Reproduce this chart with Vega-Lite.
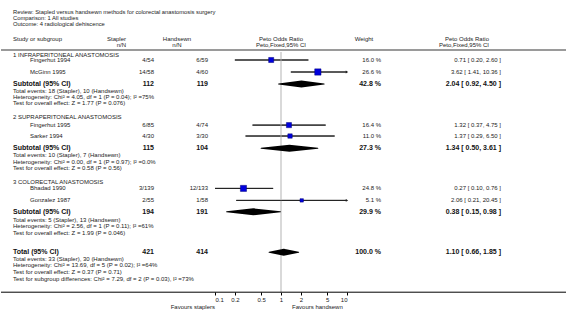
{
  "$schema": "https://vega.github.io/schema/vega-lite/v6.json",
  "padding": 0,
  "background": "white",
  "config": {"view": {"stroke": null}, "font": "Liberation Sans"},
  "datasets": {
    "seps": [{"row": 8.33}],
    "baselines": [{"row": 48.7}],
    "cells": [
      {"row": 2.0, "col": "label", "kind": "title", "text": "Review:  Stapled versus handsewn methods for colorectal anastomosis surgery"},
      {"row": 2.97, "col": "label", "kind": "title", "text": "Comparison:  1 All studies"},
      {"row": 3.94, "col": "label", "kind": "title", "text": "Outcome:  4 radiological dehiscence"},
      {"row": 6.45, "col": "label", "kind": "plain", "text": "Study or subgroup"},
      {"row": 6.45, "col": "staplerHead", "kind": "plain", "text": "Stapler"},
      {"row": 7.55, "col": "staplerHead", "kind": "plain", "text": "n/N"},
      {"row": 6.45, "col": "handsewnHead", "kind": "plain", "text": "Handsewn"},
      {"row": 7.55, "col": "handsewnHead", "kind": "plain", "text": "n/N"},
      {"row": 6.45, "col": "plotHead", "kind": "plain", "text": "Peto Odds Ratio"},
      {"row": 7.55, "col": "plotHead", "kind": "plain", "text": "Peto,Fixed,95% CI"},
      {"row": 6.45, "col": "weightHead", "kind": "plain", "text": "Weight"},
      {"row": 6.45, "col": "ciHead", "kind": "plain", "text": "Peto Odds Ratio"},
      {"row": 7.55, "col": "ciHead", "kind": "plain", "text": "Peto,Fixed,95% CI"},
      {"row": 9.2, "col": "label", "kind": "plain", "text": "1 INFRAPERITONEAL ANASTOMOSIS"},
      {"row": 10, "col": "study", "kind": "plain", "text": "Fingerhut 1994"},
      {"row": 10, "col": "stapler", "kind": "plain", "text": "4/54"},
      {"row": 10, "col": "handsewn", "kind": "plain", "text": "6/59"},
      {"row": 10, "col": "weight", "kind": "plain", "text": "16.0 %"},
      {"row": 10, "col": "ci", "kind": "plain", "text": "0.71 [ 0.20, 2.60 ]"},
      {"row": 12, "col": "study", "kind": "plain", "text": "McGinn 1995"},
      {"row": 12, "col": "stapler", "kind": "plain", "text": "14/58"},
      {"row": 12, "col": "handsewn", "kind": "plain", "text": "4/60"},
      {"row": 12, "col": "weight", "kind": "plain", "text": "26.6 %"},
      {"row": 12, "col": "ci", "kind": "plain", "text": "3.62 [ 1.41, 10.36 ]"},
      {"row": 14, "col": "label", "kind": "bold", "text": "Subtotal (95% CI)"},
      {"row": 14, "col": "stapler", "kind": "bold", "text": "112"},
      {"row": 14, "col": "handsewn", "kind": "bold", "text": "119"},
      {"row": 14, "col": "weight", "kind": "bold", "text": "42.8 %"},
      {"row": 14, "col": "ci", "kind": "bold", "text": "2.04 [ 0.92, 4.50 ]"},
      {"row": 15.1, "col": "label", "kind": "plain", "text": "Total events: 18 (Stapler), 10 (Handsewn)"},
      {"row": 16.1, "col": "label", "kind": "plain", "text": "Heterogeneity: Chi² = 4.05, df = 1 (P = 0.04); I² =75%"},
      {"row": 17.1, "col": "label", "kind": "plain", "text": "Test for overall effect: Z = 1.77 (P = 0.076)"},
      {"row": 19.45, "col": "label", "kind": "plain", "text": "2 SUPRAPERITONEAL ANASTOMOSIS"},
      {"row": 20.85, "col": "study", "kind": "plain", "text": "Fingerhut 1995"},
      {"row": 20.85, "col": "stapler", "kind": "plain", "text": "6/85"},
      {"row": 20.85, "col": "handsewn", "kind": "plain", "text": "4/74"},
      {"row": 20.85, "col": "weight", "kind": "plain", "text": "16.4 %"},
      {"row": 20.85, "col": "ci", "kind": "plain", "text": "1.32 [ 0.37, 4.75 ]"},
      {"row": 22.67, "col": "study", "kind": "plain", "text": "Sarker 1994"},
      {"row": 22.67, "col": "stapler", "kind": "plain", "text": "4/30"},
      {"row": 22.67, "col": "handsewn", "kind": "plain", "text": "3/30"},
      {"row": 22.67, "col": "weight", "kind": "plain", "text": "11.0 %"},
      {"row": 22.67, "col": "ci", "kind": "plain", "text": "1.37 [ 0.29, 6.50 ]"},
      {"row": 24.7, "col": "label", "kind": "bold", "text": "Subtotal (95% CI)"},
      {"row": 24.7, "col": "stapler", "kind": "bold", "text": "115"},
      {"row": 24.7, "col": "handsewn", "kind": "bold", "text": "104"},
      {"row": 24.7, "col": "weight", "kind": "bold", "text": "27.3 %"},
      {"row": 24.7, "col": "ci", "kind": "bold", "text": "1.34 [ 0.50, 3.61 ]"},
      {"row": 25.83, "col": "label", "kind": "plain", "text": "Total events: 10 (Stapler), 7 (Handsewn)"},
      {"row": 26.95, "col": "label", "kind": "plain", "text": "Heterogeneity: Chi² = 0.00, df = 1 (P = 0.97); I² =0.0%"},
      {"row": 28.05, "col": "label", "kind": "plain", "text": "Test for overall effect: Z = 0.58 (P = 0.56)"},
      {"row": 30.4, "col": "label", "kind": "plain", "text": "3 COLORECTAL ANASTOMOSIS"},
      {"row": 31.4, "col": "study", "kind": "plain", "text": "Bhadad 1990"},
      {"row": 31.4, "col": "stapler", "kind": "plain", "text": "3/139"},
      {"row": 31.4, "col": "handsewn", "kind": "plain", "text": "12/133"},
      {"row": 31.4, "col": "weight", "kind": "plain", "text": "24.8 %"},
      {"row": 31.4, "col": "ci", "kind": "plain", "text": "0.27 [ 0.10, 0.76 ]"},
      {"row": 33.4, "col": "study", "kind": "plain", "text": "Gonzalez 1987"},
      {"row": 33.4, "col": "stapler", "kind": "plain", "text": "2/55"},
      {"row": 33.4, "col": "handsewn", "kind": "plain", "text": "1/58"},
      {"row": 33.4, "col": "weight", "kind": "plain", "text": "5.1 %"},
      {"row": 33.4, "col": "ci", "kind": "plain", "text": "2.06 [ 0.21, 20.45 ]"},
      {"row": 35.3, "col": "label", "kind": "bold", "text": "Subtotal (95% CI)"},
      {"row": 35.3, "col": "stapler", "kind": "bold", "text": "194"},
      {"row": 35.3, "col": "handsewn", "kind": "bold", "text": "191"},
      {"row": 35.3, "col": "weight", "kind": "bold", "text": "29.9 %"},
      {"row": 35.3, "col": "ci", "kind": "bold", "text": "0.38 [ 0.15, 0.98 ]"},
      {"row": 36.6, "col": "label", "kind": "plain", "text": "Total events: 5 (Stapler), 13 (Handsewn)"},
      {"row": 37.65, "col": "label", "kind": "plain", "text": "Heterogeneity: Chi² = 2.56, df = 1 (P = 0.11); I² =61%"},
      {"row": 38.75, "col": "label", "kind": "plain", "text": "Test for overall effect: Z = 1.99 (P = 0.046)"},
      {"row": 42.05, "col": "label", "kind": "bold", "text": "Total (95% CI)"},
      {"row": 42.05, "col": "stapler", "kind": "bold", "text": "421"},
      {"row": 42.05, "col": "handsewn", "kind": "bold", "text": "414"},
      {"row": 42.05, "col": "weight", "kind": "bold", "text": "100.0 %"},
      {"row": 42.05, "col": "ci", "kind": "bold", "text": "1.10 [ 0.66, 1.85 ]"},
      {"row": 43.1, "col": "label", "kind": "plain", "text": "Total events: 33 (Stapler), 30 (Handsewn)"},
      {"row": 44.2, "col": "label", "kind": "plain", "text": "Heterogeneity: Chi² = 13.69, df = 5 (P = 0.02); I² =64%"},
      {"row": 45.25, "col": "label", "kind": "plain", "text": "Test for overall effect: Z = 0.37 (P = 0.71)"},
      {"row": 46.45, "col": "label", "kind": "plain", "text": "Test for subgroup differences: Chi² = 7.29, df = 2 (P = 0.03), I² =73%"},
      {"row": 51.1, "col": "favL", "kind": "plain", "text": "Favours staplers"},
      {"row": 51.1, "col": "favR", "kind": "plain", "text": "Favours handsewn"}
    ],
    "studies": [
      {"row": 10, "or": 0.71, "lo": 0.20, "hi": 2.60, "w": 16.0},
      {"row": 12, "or": 3.62, "lo": 1.41, "hi": 10.36, "w": 26.6},
      {"row": 20.85, "or": 1.32, "lo": 0.37, "hi": 4.75, "w": 16.4},
      {"row": 22.67, "or": 1.37, "lo": 0.29, "hi": 6.50, "w": 11.0},
      {"row": 31.4, "or": 0.27, "lo": 0.10, "hi": 0.76, "w": 24.8},
      {"row": 33.4, "or": 2.06, "lo": 0.21, "hi": 20.45, "w": 5.1}
    ],
    "diamonds": [
      {"sub": "1", "row": 14, "vertex": "end", "val": 0.92},
      {"sub": "1", "row": 14, "vertex": "mid", "val": 2.04},
      {"sub": "1", "row": 14, "vertex": "end", "val": 4.50},
      {"sub": "2", "row": 24.7, "vertex": "end", "val": 0.50},
      {"sub": "2", "row": 24.7, "vertex": "mid", "val": 1.34},
      {"sub": "2", "row": 24.7, "vertex": "end", "val": 3.61},
      {"sub": "3", "row": 35.3, "vertex": "end", "val": 0.15},
      {"sub": "3", "row": 35.3, "vertex": "mid", "val": 0.38},
      {"sub": "3", "row": 35.3, "vertex": "end", "val": 0.98},
      {"sub": "T", "row": 42.05, "vertex": "end", "val": 0.66},
      {"sub": "T", "row": 42.05, "vertex": "mid", "val": 1.10},
      {"sub": "T", "row": 42.05, "vertex": "end", "val": 1.85}
    ]
  },
  "spacing": 0,
  "bounds": "flush",
  "resolve": {"scale": {"y": "shared"}},
  "hconcat": [
    {
      "width": 24, "height": 312,
      "layer": [
        {"data": {"name": "seps"}, "mark": {"type": "rule", "color": "#9a9a9a", "strokeWidth": 2}, "encoding": {"y": {"field": "row", "type": "quantitative", "scale": {"domain": [0, 52], "nice": false, "reverse": true}, "axis": null}}},
        {"data": {"name": "cells"}, "transform": [{"filter": {"and": [{"field": "col", "equal": "label"}, {"field": "kind", "equal": "title"}]}}],
         "mark": {"type": "text", "align": "left", "baseline": "middle", "fontSize": 5.8, "color": "#1a1a1a"},
         "encoding": {"x": {"datum": "m", "type": "nominal", "scale": {"type": "point", "domain": ["l", "m", "r"], "padding": 0}, "axis": null}, "y": {"field": "row", "type": "quantitative", "scale": {"domain": [0, 52], "nice": false, "reverse": true}, "axis": null}, "text": {"field": "text"}}},
        {"data": {"name": "cells"}, "transform": [{"filter": {"and": [{"field": "col", "equal": "label"}, {"field": "kind", "equal": "plain"}]}}],
         "mark": {"type": "text", "align": "left", "baseline": "middle", "fontSize": 6, "color": "#1a1a1a"},
         "encoding": {"x": {"datum": "m", "type": "nominal", "scale": {"type": "point", "domain": ["l", "m", "r"], "padding": 0}, "axis": null}, "y": {"field": "row", "type": "quantitative", "scale": {"domain": [0, 52], "nice": false, "reverse": true}, "axis": null}, "text": {"field": "text"}}},
        {"data": {"name": "cells"}, "transform": [{"filter": {"and": [{"field": "col", "equal": "label"}, {"field": "kind", "equal": "bold"}]}}],
         "mark": {"type": "text", "align": "left", "baseline": "middle", "fontSize": 7, "fontWeight": "bold", "color": "#111"},
         "encoding": {"x": {"datum": "m", "type": "nominal", "scale": {"type": "point", "domain": ["l", "m", "r"], "padding": 0}, "axis": null}, "y": {"field": "row", "type": "quantitative", "scale": {"domain": [0, 52], "nice": false, "reverse": true}, "axis": null}, "text": {"field": "text"}}},
        {"data": {"name": "baselines"}, "mark": {"type": "rule", "color": "#000000", "strokeWidth": 1}, "encoding": {"y": {"field": "row", "type": "quantitative", "scale": {"domain": [0, 52], "nice": false, "reverse": true}, "axis": null}}}
      ]
    },
    {
      "width": 10, "height": 312,
      "layer": [
        {"data": {"name": "seps"}, "mark": {"type": "rule", "color": "#9a9a9a", "strokeWidth": 2}, "encoding": {"y": {"field": "row", "type": "quantitative", "scale": {"domain": [0, 52], "nice": false, "reverse": true}, "axis": null}}},
        {"data": {"name": "cells"}, "transform": [{"filter": {"field": "col", "equal": "study"}}],
         "mark": {"type": "text", "align": "left", "baseline": "middle", "fontSize": 6, "color": "#1a1a1a"},
         "encoding": {"x": {"datum": "m", "type": "nominal", "scale": {"type": "point", "domain": ["l", "m", "r"], "padding": 0}, "axis": null}, "y": {"field": "row", "type": "quantitative", "scale": {"domain": [0, 52], "nice": false, "reverse": true}, "axis": null}, "text": {"field": "text"}}},
        {"data": {"name": "baselines"}, "mark": {"type": "rule", "color": "#000000", "strokeWidth": 1}, "encoding": {"y": {"field": "row", "type": "quantitative", "scale": {"domain": [0, 52], "nice": false, "reverse": true}, "axis": null}}}
      ]
    },
    {
      "width": 91, "height": 312,
      "layer": [
        {"data": {"name": "seps"}, "mark": {"type": "rule", "color": "#9a9a9a", "strokeWidth": 2}, "encoding": {"y": {"field": "row", "type": "quantitative", "scale": {"domain": [0, 52], "nice": false, "reverse": true}, "axis": null}}},
        {"data": {"name": "cells"}, "transform": [{"filter": {"field": "col", "equal": "staplerHead"}}],
         "mark": {"type": "text", "align": "right", "baseline": "middle", "fontSize": 6, "color": "#1a1a1a"},
         "encoding": {"x": {"datum": "r", "type": "nominal", "scale": {"type": "point", "domain": ["l", "m", "r"], "padding": 0}, "axis": null}, "y": {"field": "row", "type": "quantitative", "scale": {"domain": [0, 52], "nice": false, "reverse": true}, "axis": null}, "text": {"field": "text"}}},
        {"data": {"name": "baselines"}, "mark": {"type": "rule", "color": "#000000", "strokeWidth": 1}, "encoding": {"y": {"field": "row", "type": "quantitative", "scale": {"domain": [0, 52], "nice": false, "reverse": true}, "axis": null}}}
      ]
    },
    {
      "width": 28, "height": 312,
      "layer": [
        {"data": {"name": "seps"}, "mark": {"type": "rule", "color": "#9a9a9a", "strokeWidth": 2}, "encoding": {"y": {"field": "row", "type": "quantitative", "scale": {"domain": [0, 52], "nice": false, "reverse": true}, "axis": null}}},
        {"data": {"name": "cells"}, "transform": [{"filter": {"and": [{"field": "col", "equal": "stapler"}, {"field": "kind", "equal": "plain"}]}}],
         "mark": {"type": "text", "align": "right", "baseline": "middle", "fontSize": 6, "color": "#1a1a1a"},
         "encoding": {"x": {"datum": "r", "type": "nominal", "scale": {"type": "point", "domain": ["l", "m", "r"], "padding": 0}, "axis": null}, "y": {"field": "row", "type": "quantitative", "scale": {"domain": [0, 52], "nice": false, "reverse": true}, "axis": null}, "text": {"field": "text"}}},
        {"data": {"name": "cells"}, "transform": [{"filter": {"and": [{"field": "col", "equal": "stapler"}, {"field": "kind", "equal": "bold"}]}}],
         "mark": {"type": "text", "align": "right", "baseline": "middle", "fontSize": 7, "fontWeight": "bold", "color": "#111"},
         "encoding": {"x": {"datum": "r", "type": "nominal", "scale": {"type": "point", "domain": ["l", "m", "r"], "padding": 0}, "axis": null}, "y": {"field": "row", "type": "quantitative", "scale": {"domain": [0, 52], "nice": false, "reverse": true}, "axis": null}, "text": {"field": "text"}}},
        {"data": {"name": "baselines"}, "mark": {"type": "rule", "color": "#000000", "strokeWidth": 1}, "encoding": {"y": {"field": "row", "type": "quantitative", "scale": {"domain": [0, 52], "nice": false, "reverse": true}, "axis": null}}}
      ]
    },
    {
      "width": 23, "height": 312,
      "layer": [
        {"data": {"name": "seps"}, "mark": {"type": "rule", "color": "#9a9a9a", "strokeWidth": 2}, "encoding": {"y": {"field": "row", "type": "quantitative", "scale": {"domain": [0, 52], "nice": false, "reverse": true}, "axis": null}}},
        {"data": {"name": "cells"}, "transform": [{"filter": {"field": "col", "equal": "handsewnHead"}}],
         "mark": {"type": "text", "align": "center", "baseline": "middle", "fontSize": 6, "color": "#1a1a1a"},
         "encoding": {"x": {"datum": "r", "type": "nominal", "scale": {"type": "point", "domain": ["l", "m", "r"], "padding": 0}, "axis": null}, "y": {"field": "row", "type": "quantitative", "scale": {"domain": [0, 52], "nice": false, "reverse": true}, "axis": null}, "text": {"field": "text"}}},
        {"data": {"name": "baselines"}, "mark": {"type": "rule", "color": "#000000", "strokeWidth": 1}, "encoding": {"y": {"field": "row", "type": "quantitative", "scale": {"domain": [0, 52], "nice": false, "reverse": true}, "axis": null}}}
      ]
    },
    {
      "width": 31, "height": 312,
      "layer": [
        {"data": {"name": "seps"}, "mark": {"type": "rule", "color": "#9a9a9a", "strokeWidth": 2}, "encoding": {"y": {"field": "row", "type": "quantitative", "scale": {"domain": [0, 52], "nice": false, "reverse": true}, "axis": null}}},
        {"data": {"name": "cells"}, "transform": [{"filter": {"and": [{"field": "col", "equal": "handsewn"}, {"field": "kind", "equal": "plain"}]}}],
         "mark": {"type": "text", "align": "right", "baseline": "middle", "fontSize": 6, "color": "#1a1a1a"},
         "encoding": {"x": {"datum": "r", "type": "nominal", "scale": {"type": "point", "domain": ["l", "m", "r"], "padding": 0}, "axis": null}, "y": {"field": "row", "type": "quantitative", "scale": {"domain": [0, 52], "nice": false, "reverse": true}, "axis": null}, "text": {"field": "text"}}},
        {"data": {"name": "cells"}, "transform": [{"filter": {"and": [{"field": "col", "equal": "handsewn"}, {"field": "kind", "equal": "bold"}]}}],
         "mark": {"type": "text", "align": "right", "baseline": "middle", "fontSize": 7, "fontWeight": "bold", "color": "#111"},
         "encoding": {"x": {"datum": "r", "type": "nominal", "scale": {"type": "point", "domain": ["l", "m", "r"], "padding": 0}, "axis": null}, "y": {"field": "row", "type": "quantitative", "scale": {"domain": [0, 52], "nice": false, "reverse": true}, "axis": null}, "text": {"field": "text"}}},
        {"data": {"name": "baselines"}, "mark": {"type": "rule", "color": "#000000", "strokeWidth": 1}, "encoding": {"y": {"field": "row", "type": "quantitative", "scale": {"domain": [0, 52], "nice": false, "reverse": true}, "axis": null}}}
      ]
    },
    {
      "width": 7, "height": 312,
      "layer": [
        {"data": {"name": "seps"}, "mark": {"type": "rule", "color": "#9a9a9a", "strokeWidth": 2}, "encoding": {"y": {"field": "row", "type": "quantitative", "scale": {"domain": [0, 52], "nice": false, "reverse": true}, "axis": null}}},
        {"data": {"name": "baselines"}, "mark": {"type": "rule", "color": "#000000", "strokeWidth": 1}, "encoding": {"y": {"field": "row", "type": "quantitative", "scale": {"domain": [0, 52], "nice": false, "reverse": true}, "axis": null}}}
      ]
    },
    {
      "width": 132, "height": 312,
      "resolve": {"scale": {"size": "independent"}},
      "layer": [
        {"data": {"name": "studies"},
         "mark": {"type": "rule", "color": "#222", "strokeWidth": 1},
         "encoding": {
           "x": {"field": "lo", "type": "quantitative", "scale": {"type": "log", "domain": [0.1, 10], "clamp": true},
                 "axis": {"values": [0.1, 0.2, 0.5, 1, 2, 5, 10], "format": "~g", "title": null, "domain": false, "grid": false, "offset": -20, "tickSize": 3, "tickWidth": 1, "tickColor": "#000", "labelFontSize": 6, "labelColor": "#1a1a1a", "labelPadding": 1, "labelFont": "Liberation Sans"}},
           "x2": {"field": "hi"},
           "y": {"field": "row", "type": "quantitative", "scale": {"domain": [0, 52], "nice": false, "reverse": true}, "axis": null}
         }},
        {"data": {"name": "seps"}, "mark": {"type": "rule", "color": "#9a9a9a", "strokeWidth": 2}, "encoding": {"y": {"field": "row", "type": "quantitative"}}},
        {"data": {"name": "studies"},
         "mark": {"type": "rule", "color": "#d9d9d9", "strokeWidth": 2},
         "encoding": {
           "x": {"datum": 1, "type": "quantitative"},
           "y": {"datum": 8.65, "type": "quantitative"},
           "y2": {"datum": 48.7}
         }},
        {"data": {"name": "studies"},
         "mark": {"type": "rule", "color": "#222", "strokeWidth": 1},
         "encoding": {
           "x": {"field": "lo", "type": "quantitative"},
           "x2": {"field": "hi"},
           "y": {"field": "row", "type": "quantitative"}
         }},
        {"data": {"name": "studies"},
         "mark": {"type": "square", "filled": true, "color": "#0000dd", "stroke": "#00007a", "strokeWidth": 0.5, "opacity": 1},
         "encoding": {
           "x": {"field": "or", "type": "quantitative"},
           "y": {"field": "row", "type": "quantitative"},
           "size": {"field": "w", "type": "quantitative", "scale": {"domain": [0, 30], "range": [5, 44], "zero": false}, "legend": null}
         }},
        {"data": {"name": "studies"},
         "transform": [{"filter": {"field": "hi", "gt": 10}}],
         "mark": {"type": "point", "shape": "triangle-right", "filled": true, "color": "#222", "size": 8, "opacity": 1},
         "encoding": {
           "x": {"field": "hi", "type": "quantitative"},
           "y": {"field": "row", "type": "quantitative"}
         }},
        {"data": {"name": "diamonds"},
         "mark": {"type": "trail", "color": "#000"},
         "encoding": {
           "x": {"field": "val", "type": "quantitative"},
           "y": {"field": "row", "type": "quantitative"},
           "size": {"field": "vertex", "type": "ordinal", "scale": {"type": "point", "domain": ["end", "mid"], "range": [0, 7], "padding": 0}, "legend": null},
           "detail": {"field": "sub"},
           "order": {"field": "val", "type": "quantitative"}
         }},
        {"data": {"name": "cells"}, "transform": [{"filter": {"field": "col", "equal": "plotHead"}}],
         "mark": {"type": "text", "align": "center", "baseline": "middle", "fontSize": 6, "color": "#1a1a1a"},
         "encoding": {"x": {"datum": 1, "type": "quantitative"}, "y": {"field": "row", "type": "quantitative"}, "text": {"field": "text"}}},
        {"data": {"name": "cells"}, "transform": [{"filter": {"field": "col", "equal": "favL"}}],
         "mark": {"type": "text", "align": "right", "baseline": "middle", "fontSize": 6, "color": "#1a1a1a"},
         "encoding": {"x": {"datum": 0.1, "type": "quantitative"}, "y": {"field": "row", "type": "quantitative"}, "text": {"field": "text"}}},
        {"data": {"name": "cells"}, "transform": [{"filter": {"field": "col", "equal": "favR"}}],
         "mark": {"type": "text", "align": "left", "baseline": "middle", "fontSize": 6, "color": "#1a1a1a"},
         "encoding": {"x": {"datum": 1.47, "type": "quantitative"}, "y": {"field": "row", "type": "quantitative"}, "text": {"field": "text"}}},
        {"data": {"name": "baselines"}, "mark": {"type": "rule", "color": "#000000", "strokeWidth": 1}, "encoding": {"y": {"field": "row", "type": "quantitative"}}}
      ]
    },
    {
      "width": 34, "height": 312,
      "layer": [
        {"data": {"name": "seps"}, "mark": {"type": "rule", "color": "#9a9a9a", "strokeWidth": 2}, "encoding": {"y": {"field": "row", "type": "quantitative", "scale": {"domain": [0, 52], "nice": false, "reverse": true}, "axis": null}}},
        {"data": {"name": "cells"}, "transform": [{"filter": {"field": "col", "equal": "weightHead"}}],
         "mark": {"type": "text", "align": "center", "baseline": "middle", "fontSize": 6, "color": "#1a1a1a"},
         "encoding": {"x": {"datum": "m", "type": "nominal", "scale": {"type": "point", "domain": ["l", "m", "r"], "padding": 0}, "axis": null}, "y": {"field": "row", "type": "quantitative", "scale": {"domain": [0, 52], "nice": false, "reverse": true}, "axis": null}, "text": {"field": "text"}}},
        {"data": {"name": "cells"}, "transform": [{"filter": {"and": [{"field": "col", "equal": "weight"}, {"field": "kind", "equal": "plain"}]}}],
         "mark": {"type": "text", "align": "right", "baseline": "middle", "fontSize": 6, "color": "#1a1a1a"},
         "encoding": {"x": {"datum": "r", "type": "nominal", "scale": {"type": "point", "domain": ["l", "m", "r"], "padding": 0}, "axis": null}, "y": {"field": "row", "type": "quantitative", "scale": {"domain": [0, 52], "nice": false, "reverse": true}, "axis": null}, "text": {"field": "text"}}},
        {"data": {"name": "cells"}, "transform": [{"filter": {"and": [{"field": "col", "equal": "weight"}, {"field": "kind", "equal": "bold"}]}}],
         "mark": {"type": "text", "align": "right", "baseline": "middle", "fontSize": 7, "fontWeight": "bold", "color": "#111"},
         "encoding": {"x": {"datum": "r", "type": "nominal", "scale": {"type": "point", "domain": ["l", "m", "r"], "padding": 0}, "axis": null}, "y": {"field": "row", "type": "quantitative", "scale": {"domain": [0, 52], "nice": false, "reverse": true}, "axis": null}, "text": {"field": "text"}}},
        {"data": {"name": "baselines"}, "mark": {"type": "rule", "color": "#000000", "strokeWidth": 1}, "encoding": {"y": {"field": "row", "type": "quantitative", "scale": {"domain": [0, 52], "nice": false, "reverse": true}, "axis": null}}}
      ]
    },
    {
      "width": 108, "height": 312,
      "layer": [
        {"data": {"name": "seps"}, "mark": {"type": "rule", "color": "#9a9a9a", "strokeWidth": 2}, "encoding": {"y": {"field": "row", "type": "quantitative", "scale": {"domain": [0, 52], "nice": false, "reverse": true}, "axis": null}}},
        {"data": {"name": "cells"}, "transform": [{"filter": {"field": "col", "equal": "ciHead"}}],
         "mark": {"type": "text", "align": "right", "baseline": "middle", "fontSize": 6, "color": "#1a1a1a"},
         "encoding": {"x": {"datum": "r", "type": "nominal", "scale": {"type": "point", "domain": ["l", "m", "r"], "padding": 0}, "axis": null}, "y": {"field": "row", "type": "quantitative", "scale": {"domain": [0, 52], "nice": false, "reverse": true}, "axis": null}, "text": {"field": "text"}}},
        {"data": {"name": "baselines"}, "mark": {"type": "rule", "color": "#000000", "strokeWidth": 1}, "encoding": {"y": {"field": "row", "type": "quantitative", "scale": {"domain": [0, 52], "nice": false, "reverse": true}, "axis": null}}}
      ]
    },
    {
      "width": 12, "height": 312,
      "layer": [
        {"data": {"name": "seps"}, "mark": {"type": "rule", "color": "#9a9a9a", "strokeWidth": 2}, "encoding": {"y": {"field": "row", "type": "quantitative", "scale": {"domain": [0, 52], "nice": false, "reverse": true}, "axis": null}}},
        {"data": {"name": "cells"}, "transform": [{"filter": {"and": [{"field": "col", "equal": "ci"}, {"field": "kind", "equal": "plain"}]}}],
         "mark": {"type": "text", "align": "right", "baseline": "middle", "fontSize": 6, "color": "#1a1a1a"},
         "encoding": {"x": {"datum": "r", "type": "nominal", "scale": {"type": "point", "domain": ["l", "m", "r"], "padding": 0}, "axis": null}, "y": {"field": "row", "type": "quantitative", "scale": {"domain": [0, 52], "nice": false, "reverse": true}, "axis": null}, "text": {"field": "text"}}},
        {"data": {"name": "cells"}, "transform": [{"filter": {"and": [{"field": "col", "equal": "ci"}, {"field": "kind", "equal": "bold"}]}}],
         "mark": {"type": "text", "align": "right", "baseline": "middle", "fontSize": 7, "fontWeight": "bold", "color": "#111"},
         "encoding": {"x": {"datum": "r", "type": "nominal", "scale": {"type": "point", "domain": ["l", "m", "r"], "padding": 0}, "axis": null}, "y": {"field": "row", "type": "quantitative", "scale": {"domain": [0, 52], "nice": false, "reverse": true}, "axis": null}, "text": {"field": "text"}}},
        {"data": {"name": "baselines"}, "mark": {"type": "rule", "color": "#000000", "strokeWidth": 1}, "encoding": {"y": {"field": "row", "type": "quantitative", "scale": {"domain": [0, 52], "nice": false, "reverse": true}, "axis": null}}}
      ]
    },
    {
      "width": 66, "height": 312,
      "layer": [
        {"data": {"name": "seps"}, "mark": {"type": "rule", "color": "#9a9a9a", "strokeWidth": 2}, "encoding": {"y": {"field": "row", "type": "quantitative", "scale": {"domain": [0, 52], "nice": false, "reverse": true}, "axis": null}}},
        {"data": {"name": "baselines"}, "mark": {"type": "rule", "color": "#000000", "strokeWidth": 1}, "encoding": {"y": {"field": "row", "type": "quantitative", "scale": {"domain": [0, 52], "nice": false, "reverse": true}, "axis": null}}}
      ]
    }
  ]
}
